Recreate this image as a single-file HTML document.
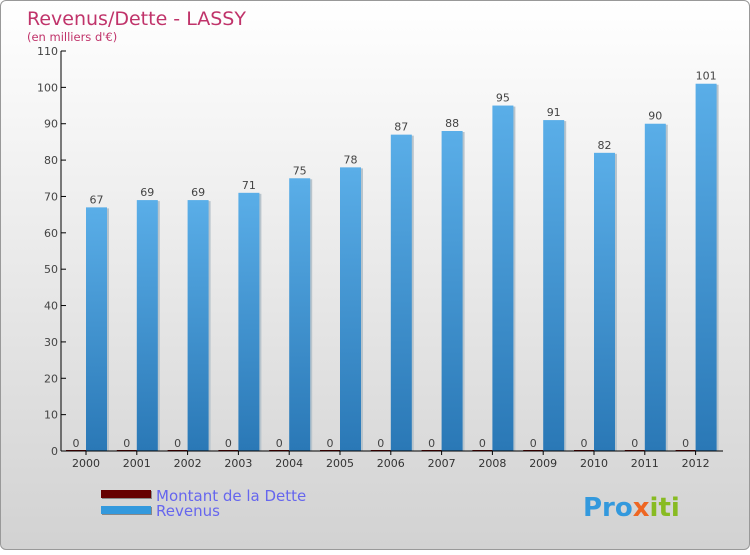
<!DOCTYPE html>
<html><head><meta charset="utf-8">
<style>
body{margin:0;width:750px;height:550px;overflow:hidden;font-family:"DejaVu Sans","Liberation Sans",sans-serif;}
#wrap{position:absolute;left:0;top:0;width:748px;height:548px;border:1px solid #999;border-radius:6px;background:linear-gradient(#ffffff,#d2d2d2);}
</style></head>
<body>
<div id="wrap">
<svg width="750" height="550">
<defs>
<linearGradient id="gr" x1="0" y1="0" x2="0" y2="1"><stop offset="0" stop-color="#5aaee8"/><stop offset="1" stop-color="#2a78b6"/></linearGradient>
</defs>
<text x="26" y="24" font-size="19" fill="#c0336a">Revenus/Dette - LASSY</text>
<text x="26" y="40" font-size="11.5" fill="#c0336a">(en milliers d'€)</text>
<g id="plot"></g>
<g>
<rect x="101" y="490" width="50" height="8" fill="#888"/>
<rect x="100" y="489" width="50" height="8" fill="#660000"/>
<text x="155" y="500" font-size="15" fill="#6666ee">Montant de la Dette</text>
<rect x="101" y="506" width="50" height="8" fill="#888"/>
<rect x="100" y="505" width="50" height="8" fill="#3399dd"/>
<text x="155" y="515" font-size="15" fill="#6666ee">Revenus</text>
</g>
<text x="582" y="515" font-size="26" font-weight="bold" fill="#3399dd">Pro<tspan fill="#ee6622">x</tspan><tspan fill="#88bb22">iti</tspan></text>
</svg>
</div>
<script>
const years=["2000","2001","2002","2003","2004","2005","2006","2007","2008","2009","2010","2011","2012"];
const revenus=[67,69,69,71,75,78,87,88,95,91,82,90,101];
const dette=[0,0,0,0,0,0,0,0,0,0,0,0,0];
const yTicks=[0,10,20,30,40,50,60,70,80,90,100,110];
const NS="http://www.w3.org/2000/svg";
const g=document.getElementById('plot');
const y0=450,yMax=110,ph=400;
function ys(v){return y0-v/yMax*ph;}
function xs(i){return 85+i*50.8;}
function mk(t,a,txt){const e=document.createElementNS(NS,t);for(const k in a)e.setAttribute(k,a[k]);if(txt!==undefined)e.textContent=txt;g.appendChild(e);return e;}
yTicks.forEach(v=>{
 const l=mk('line',{x1:60,x2:65,y1:ys(v),y2:ys(v),stroke:'#000'});
 
 
 const t=mk('text',{x:57,y:ys(v)+4,'text-anchor':'end','font-size':11,fill:'#444'},v);
 
 
});
years.forEach((yr,i)=>{
 const c=xs(i);
 const t=mk('text',{x:c,y:466,'text-anchor':'middle','font-size':11,fill:'#333'},yr);
 
 
 const tk=mk('line',{x1:c,x2:c,y1:450,y2:454,stroke:'#000'});
 
 
 const dh=Math.max(1,y0-ys(dette[i]));
 const d=mk('rect',{x:c-20,y:y0-dh,width:20,height:dh,fill:'#660000'});
 
 
 const dl=mk('text',{x:c-10,y:ys(dette[i])-4,'text-anchor':'middle','font-size':11,fill:'#444'},dette[i]);
 
 
 const sh=mk('rect',{x:c+2,y:ys(revenus[i])+1,width:21,height:y0-ys(revenus[i])-1,fill:'#b8c4cc'});
 
 
 const r=mk('rect',{x:c,y:ys(revenus[i]),width:21,height:y0-ys(revenus[i]),fill:'url(#gr)'});
 
 
 const rl=mk('text',{x:c+10.5,y:ys(revenus[i])-4,'text-anchor':'middle','font-size':11,fill:'#444'},revenus[i]);
 
 
});
const ax=mk('line',{x1:60,x2:60,y1:50,y2:450,stroke:'#000'});


const bx=mk('line',{x1:60,x2:722,y1:450,y2:450,stroke:'#000'});


</script>
</body></html>
